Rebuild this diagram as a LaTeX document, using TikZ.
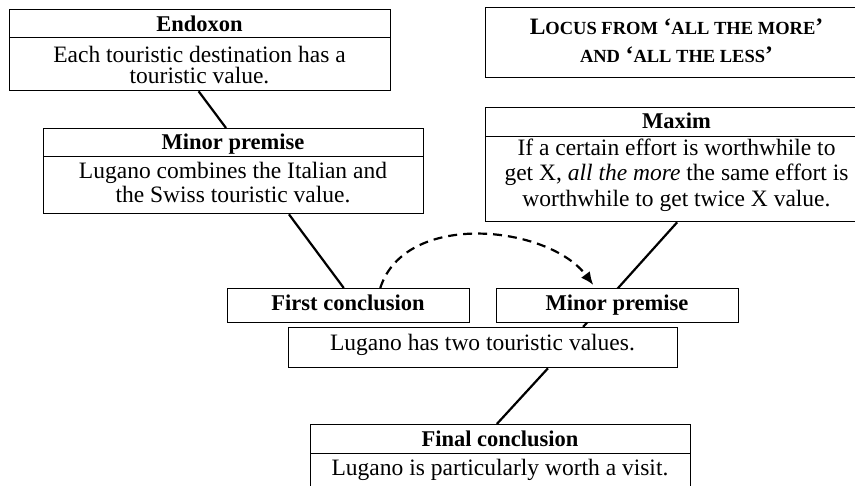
\documentclass[tikz,border=0pt]{standalone}
\usepackage{fontspec}
\setmainfont{Liberation Serif}
\usetikzlibrary{arrows.meta,calc,backgrounds}
% capitals in two sizes, standing in for small caps
\newcommand{\capL}[1]{{\fontsize{23.5}{27}\selectfont #1}}
\newcommand{\capS}[1]{{\fontsize{18.5}{27}\selectfont #1}}
\begin{document}
\begin{tikzpicture}[x=1pt,y=-1pt,
  frame/.style={draw, line width=1.3pt, fill=white, inner sep=0pt, anchor=north west},
  body/.style={anchor=base, inner sep=0pt, font=\fontsize{23.5}{26}\selectfont},
  title/.style={anchor=base, inner sep=0pt, font=\fontsize{22.5}{26}\selectfont\bfseries},
  link/.style={line width=2.2pt},
  jump/.style={line width=2.2pt, dash pattern=on 9pt off 6pt,
    -{Latex[length=13pt,width=11pt]}}]
\useasboundingbox (0,0) rectangle (855,486);
\clip (0,0) rectangle (855,486);

% left column: endoxon and minor premise
\node[frame, minimum width=381, minimum height=28] (endH) at (9,9) {};
\node[frame, minimum width=381, minimum height=53] (endB) at (9,37) {};
\node[title] (endHt) at (199.5,31.5) {Endoxon};
\node[body] (endB1) at (199.5,62.5) {Each touristic destination has a};
\node[body] (endB2) at (199.5,84) {touristic value.};

\node[frame, minimum width=380, minimum height=28] (minLH) at (43,128) {};
\node[frame, minimum width=380, minimum height=57] (minLB) at (43,156) {};
\node[title] (minLHt) at (233,150) {Minor premise};
\node[body] (minLB1) at (233,179) {Lugano combines the Italian and};
\node[body] (minLB2) at (233,203) {the Swiss touristic value.};

% right column: locus and maxim
\node[frame, minimum width=383, minimum height=70] (locus) at (485,7) {};
\node[title] (locus1) at (676.5,35)
  {\capL{L}\capS{OCUS FROM} \capL{`}\capS{ALL THE MORE}\capL{'}};
\node[title] (locus2) at (676.5,62.5)
  {\capS{AND} \capL{`}\capS{ALL THE LESS}\capL{'}};

\node[frame, minimum width=383, minimum height=29] (maxH) at (485,107) {};
\node[frame, minimum width=383, minimum height=85] (maxB) at (485,136) {};
\node[title] (maxHt) at (676.5,128.5) {Maxim};
\node[body] (maxB1) at (676.5,155.5) {If a certain effort is worthwhile to};
\node[body] (maxB2) at (676.5,181) {get X, \emph{all the more} the same effort is};
\node[body] (maxB3) at (676.5,207) {worthwhile to get twice X value.};

% conclusions
\node[frame, minimum width=242, minimum height=34] (first) at (227,288) {};
\node[title] (firstT) at (348,311) {First conclusion};
\node[frame, minimum width=242, minimum height=34] (minRH) at (496,288) {};
\node[title] (minRHt) at (617,311) {Minor premise};
\node[frame, minimum width=389, minimum height=40] (lug) at (288,327) {};
\node[body] (lugT) at (482.5,350.5) {Lugano has two touristic values.};
\node[frame, minimum width=380, minimum height=29] (finH) at (310,424) {};
\node[frame, minimum width=380, minimum height=36] (finB) at (310,453) {};
\node[title] (finHt) at (500,446.5) {Final conclusion};
\node[body] (finBt) at (500,475.5) {Lugano is particularly worth a visit.};

% solid connectors behind the boxes
\begin{scope}[on background layer]
  \draw[link] ($(endB.south west)!0.496!(endB.south east)$) -- ($(minLH.north west)!0.48!(minLH.north east)$);
  \draw[link] ($(minLB.south west)!0.645!(minLB.south east)$) -- ($(first.north west)!0.48!(first.north east)$);
  \draw[link] (maxB.south) -- ($(lug.north west)!0.756!(lug.north east)$);
  \draw[link] ($(lug.south west)!0.666!(lug.south east)$) -- ($(finH.north west)!0.49!(finH.north east)$);
\end{scope}

% dashed transfer from the first conclusion to the second minor premise
\coordinate (jumpEnd) at ($(minRH.north west)!0.40!(minRH.north east)+(0,-3)$);
\draw[jump] ($(first.north west)!0.63!(first.north east)$) .. controls +(25,-78) and +(-45,-60) .. (jumpEnd);
\end{tikzpicture}
\end{document}
